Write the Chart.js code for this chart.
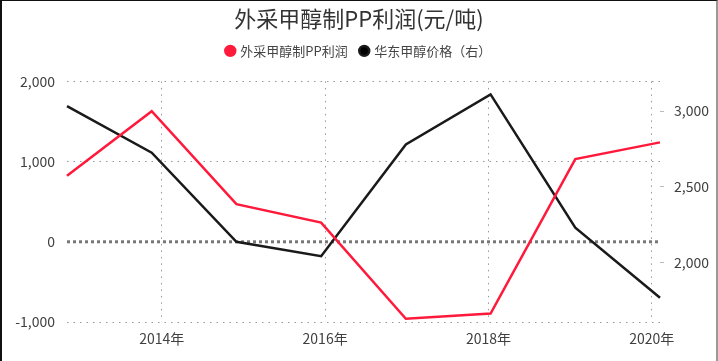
<!DOCTYPE html>
<html>
<head>
<meta charset="utf-8">
<script src="https://cdn.jsdelivr.net/npm/chart.js@4.4.1/dist/chart.umd.min.js"></script>
<style>
  html, body { margin: 0; padding: 0; background: #fff; }
  #box {
    position: absolute; left: 0; top: 0; width: 714px; height: 360px;
    border-left: 2px solid #111; border-top: 1px solid #111; border-right: 2px solid #999;
  }
</style>
</head>
<body>
<div id="box"><canvas id="chart" width="714" height="360"></canvas></div>
<script>
const years = [2013, 2014, 2015, 2016, 2017, 2018, 2019, 2020];
const profit = [823, 1628, 469, 240, -960, -894, 1031, 1240];      // 外采甲醇制PP利润 (left)
const methanol = [3033, 2725, 2135, 2040, 2779, 3111, 2228, 1764]; // 华东甲醇价格 (right)
const xTicks = [2014, 2016, 2018, 2020];
const rightTicks = [2000, 2500, 3000];

const FONT = '"Noto Sans CJK SC", "Noto Sans", sans-serif';
const textColor = '#404040';

// thick dotted line at zero on the left axis
const zeroLine = {
  id: 'zeroLine',
  beforeDatasetsDraw(chart) {
    const {ctx, chartArea} = chart;
    const y = chart.scales.y.getPixelForValue(0);
    ctx.save();
    ctx.strokeStyle = '#777';
    ctx.lineWidth = 3;
    ctx.setLineDash([3, 3]);
    ctx.beginPath();
    ctx.moveTo(chartArea.left, y);
    ctx.lineTo(chartArea.right, y);
    ctx.stroke();
    ctx.restore();
  }
};

new Chart(document.getElementById('chart'), {
  type: 'line',
  data: {
    datasets: [
      {
        label: '外采甲醇制PP利润',
        data: years.map((y, i) => ({x: y, y: profit[i]})),
        borderColor: '#ff1a3c',
        backgroundColor: '#ff1a3c',
        borderWidth: 2.5,
        pointRadius: 0,
        yAxisID: 'y',
      },
      {
        label: '华东甲醇价格（右）',
        data: years.map((y, i) => ({x: y, y: methanol[i]})),
        borderColor: '#1a1a1a',
        backgroundColor: '#000',
        borderWidth: 2.5,
        pointRadius: 0,
        yAxisID: 'y1',
      }
    ]
  },
  options: {
    responsive: false,
    animation: false,
    layout: { padding: 0 },
    plugins: {
      title: {
        display: true,
        text: '外采甲醇制PP利润(元/吨)',
        color: '#333',
        font: { family: FONT, size: 22, weight: 'normal' },
        padding: { top: 4, bottom: 0 },
      },
      legend: {
        position: 'top',
        labels: {
          usePointStyle: true,
          pointStyle: 'circle',
          boxWidth: 7,
          boxHeight: 7,
          padding: 13,
          color: '#444',
          font: { family: FONT, size: 13 },
        }
      },
      tooltip: { enabled: false },
    },
    scales: {
      pad: {
        type: 'linear',
        position: 'top',
        display: true,
        ticks: { display: false },
        grid: { display: false },
        border: { display: false },
        afterFit(s) { s.height = 14; },
      },
      x: {
        type: 'linear',
        min: 2012.84,
        max: 2020.1,
        afterBuildTicks(s) { s.ticks = xTicks.map(v => ({value: v})); },
        ticks: {
          callback: v => v + '年',
          color: textColor,
          font: { family: FONT, size: 14 },
          padding: 8,
          maxRotation: 0,
        },
        grid: { color: '#999', lineWidth: 1, drawTicks: false },
        border: { display: false, dash: [1.5, 5] },
        afterFit(s) { s.height = 39; },
      },
      y: {
        position: 'left',
        min: -1000,
        max: 2000,
        ticks: {
          stepSize: 1000,
          callback: v => v.toLocaleString('en-US'),
          color: textColor,
          font: { family: FONT, size: 14 },
          padding: 12,
        },
        grid: {
          color: c => (c.tick && c.tick.value === 0) ? 'rgba(0,0,0,0)' : '#999',
          lineWidth: 1,
          drawTicks: false
        },
        border: { display: false, dash: [1.5, 5] },
        afterFit(s) { s.width = 65; },
      },
      y1: {
        position: 'right',
        min: 1604,
        max: 3197,
        afterBuildTicks(s) { s.ticks = rightTicks.map(v => ({value: v})); },
        ticks: {
          callback: v => v.toLocaleString('en-US'),
          color: textColor,
          font: { family: FONT, size: 14 },
          padding: 10,
        },
        grid: { drawOnChartArea: false, drawTicks: true, tickLength: 4, tickColor: '#bbb' },
        border: { display: false },
        afterFit(s) { s.width = 56; },
      }
    }
  },
  plugins: [zeroLine]
});
</script>
</body>
</html>
